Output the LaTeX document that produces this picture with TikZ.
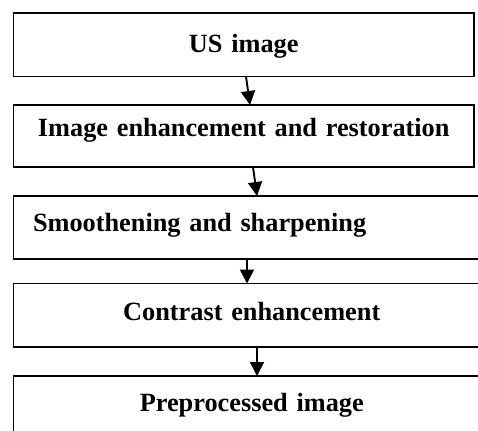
\documentclass[tikz,border=0pt]{standalone}
\usepackage{fontspec}
\setmainfont{Liberation Serif}
\usetikzlibrary{arrows.meta, positioning}

\begin{document}
\begin{tikzpicture}[node distance=28.5pt, >={Triangle[width=14pt,length=14pt]},
    box/.style={draw, line width=1.9pt, inner sep=0pt, outer sep=0pt, align=center, text width=460.5pt,
        font=\fontsize{26.3}{30}\selectfont\bfseries},
    widebox/.style={box, text width=476.5pt},
    flow/.style={->, line width=1.9pt}]
            \useasboundingbox (0,0) rectangle (478pt,-430pt);

                % Nodes
                \node (us) [box, anchor=north west, text height=40pt, text depth=23.5pt] at (13.5pt,-13pt) {US image};
                \node (enh) [box, below=of us.south west, anchor=north west, text height=31.7pt, text depth=30.3pt] {Image enhancement and restoration};
                \node (smooth) [widebox, below=29pt of enh.south west, anchor=north west, align=left, inner xsep=19.5pt, text width=437.5pt, text height=35.7pt, text depth=27.3pt] {Smoothening and sharpening};
                \node (contrast) [widebox, below=24.5pt of smooth.south west, anchor=north west, text height=36.5pt, text depth=27pt] {Contrast enhancement};
                \node (pre) [widebox, below=29pt of contrast.south west, anchor=north west, text height=35.7pt, text depth=38.3pt] {Preprocessed image};

                % Edges
                \draw[flow] ([xshift=2.25pt]us.south) -- ([xshift=6.25pt]enh.north);
                \draw[flow] ([xshift=9.25pt]enh.south) -- ([xshift=5.25pt]smooth.north);
                \draw[flow] ([xshift=-4.75pt]smooth.south) -- ([xshift=-4.75pt]contrast.north);
                \draw[flow] ([xshift=5.25pt]contrast.south) -- ([xshift=5.25pt]pre.north);
            \end{tikzpicture}
\end{document}
